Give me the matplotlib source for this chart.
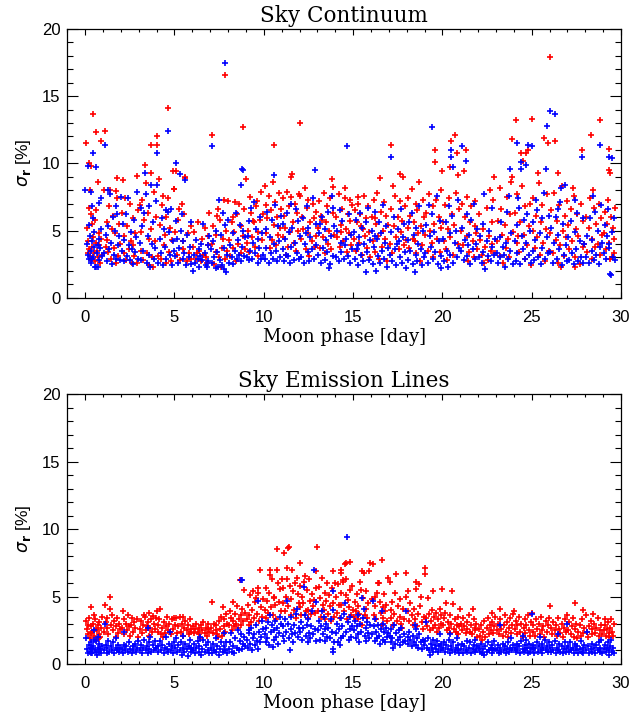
import numpy as np
import matplotlib
matplotlib.use("Agg")
import matplotlib.pyplot as plt
from matplotlib.ticker import MultipleLocator

# sigma_r [%] versus moon phase [day], red and blue samples
cont_red = np.array([
    (0.05, 11.5), (0.45, 13.7), (0.58, 12.3), (0.9, 11.7), (0.2, 10.0), (0.35, 9.8), (0.73, 8.6), (0.26, 8.0),
    (0.22, 6.7), (0.3, 6.2), (0.4, 5.5), (0.15, 4.2), (0.2, 3.6), (0.25, 3.1), (0.3, 2.9), (0.4, 3.8), (0.45, 4.5),
    (0.5, 3.3), (0.55, 2.7), (0.6, 4.1), (0.65, 3.5), (0.7, 3.0), (0.75, 4.8), (0.8, 3.9), (0.85, 2.6), (0.9, 4.4),
    (0.95, 3.2), (0.1, 5.2), (0.55, 5.8), (0.35, 2.8), (0.62, 6.5), (0.15, 3.3),
    (1.1, 12.4), (1.06, 8.0), (1.38, 8.0), (1.7, 7.95), (1.8, 8.9), (1.35, 6.8), (1.8, 7.4), (1.2, 5.6), (1.25, 4.3),
    (1.3, 3.4), (1.45, 2.9), (1.5, 5.1), (1.6, 3.7), (1.65, 4.8), (1.75, 2.6), (1.85, 3.1), (1.9, 5.5), (1.95, 4.0),
    (1.15, 3.8), (1.55, 6.1),
    (2.1, 8.75), (2.05, 6.3), (2.15, 3.3), (2.2, 4.6), (2.3, 2.8), (2.35, 5.3), (2.45, 3.6), (2.5, 7.0), (2.55, 4.2),
    (2.6, 2.6), (2.7, 5.9), (2.75, 3.1), (2.8, 4.8), (2.9, 2.6), (2.9, 9.05), (2.95, 6.5), (2.25, 7.4), (2.65, 3.9),
    (3.35, 9.9), (3.66, 11.4), (3.7, 9.25), (3.4, 8.5), (3.85, 7.9), (3.05, 6.9), (3.1, 3.5), (3.15, 4.9), (3.25, 2.8),
    (3.3, 5.8), (3.45, 3.3), (3.5, 6.3), (3.55, 4.4), (3.6, 2.4), (3.7, 5.1), (3.75, 3.0), (3.8, 2.25), (3.9, 4.2),
    (3.95, 6.0), (3.2, 7.3),
    (4.03, 12.0), (4.0, 11.4), (4.63, 14.1), (4.15, 8.8), (4.65, 7.45), (4.9, 9.4), (4.1, 3.1), (4.2, 5.4), (4.25, 2.9),
    (4.3, 6.9), (4.4, 3.9), (4.45, 4.7), (4.5, 2.6), (4.55, 6.0), (4.7, 3.4), (4.75, 5.2), (4.8, 2.7), (4.85, 4.3),
    (4.95, 8.1), (4.35, 7.6),
    (5.0, 8.1), (5.1, 9.4), (5.4, 7.0), (5.6, 8.9), (5.6, 9.0), (5.05, 4.9), (5.15, 3.2), (5.2, 5.8), (5.3, 2.8),
    (5.45, 4.2), (5.5, 3.6), (5.55, 6.2), (5.7, 2.75), (5.75, 4.8), (5.8, 3.3), (5.9, 5.3), (5.95, 2.9), (5.25, 6.6),
    (6.05, 3.8), (6.1, 4.9), (6.2, 2.9), (6.3, 5.6), (6.4, 3.5), (6.5, 2.75), (6.55, 4.4), (6.6, 3.2), (6.7, 5.2),
    (6.8, 2.6), (6.85, 3.9), (6.95, 6.3), (6.9, 4.6), (6.25, 3.3), (6.75, 3.0),
    (7.09, 12.1), (7.45, 6.6), (7.75, 7.3), (7.2, 2.5), (7.6, 2.25), (7.1, 4.0), (7.15, 5.3), (7.3, 3.4), (7.35, 4.7),
    (7.5, 3.0), (7.55, 5.8), (7.65, 3.7), (7.7, 4.4), (7.85, 2.9), (7.9, 5.0), (7.95, 3.5), (7.82, 16.6), (7.4, 6.1),
    (8.0, 7.2), (8.4, 7.1), (8.6, 7.0), (8.81, 12.7), (8.05, 4.3), (8.1, 3.1), (8.2, 5.6), (8.3, 3.7), (8.35, 4.9),
    (8.45, 2.7), (8.5, 6.2), (8.55, 4.0), (8.7, 3.3), (8.75, 5.3), (8.85, 4.6), (8.9, 6.6), (8.95, 3.6), (8.25, 6.0),
    (9.0, 8.8), (9.25, 7.5), (9.6, 7.2), (9.4, 5.7), (9.45, 5.6), (9.05, 4.1), (9.1, 5.0), (9.2, 3.4), (9.3, 6.3),
    (9.35, 4.5), (9.5, 3.8), (9.55, 6.8), (9.65, 4.9), (9.7, 3.1), (9.8, 5.8), (9.85, 7.9), (9.9, 4.3), (9.95, 6.2),
    (10.6, 11.4), (10.05, 8.3), (10.1, 6.9), (10.15, 4.8), (10.2, 5.9), (10.3, 7.6), (10.35, 3.7), (10.4, 6.5),
    (10.45, 4.3), (10.5, 8.6), (10.55, 5.4), (10.65, 7.1), (10.7, 3.9), (10.75, 6.0), (10.8, 4.7), (10.85, 7.8),
    (10.9, 5.2), (10.95, 6.6),
    (11.5, 9.0), (11.6, 9.2), (11.05, 7.4), (11.1, 4.5), (11.15, 6.1), (11.2, 5.2), (11.3, 7.9), (11.35, 3.8),
    (11.4, 6.8), (11.45, 4.9), (11.55, 7.5), (11.65, 5.6), (11.7, 4.1), (11.75, 7.0), (11.8, 3.5), (11.85, 6.3),
    (11.9, 5.0), (11.95, 7.7), (11.25, 3.2),
    (12.0, 13.0), (12.05, 7.6), (12.1, 4.4), (12.15, 6.0), (12.2, 5.1), (12.3, 8.2), (12.35, 3.6), (12.4, 6.7),
    (12.45, 4.8), (12.5, 7.3), (12.55, 3.1), (12.6, 5.6), (12.7, 4.2), (12.75, 7.0), (12.8, 5.9), (12.85, 3.8),
    (12.9, 6.4), (12.95, 4.6),
    (13.8, 8.8), (13.9, 8.25), (13.05, 5.2), (13.1, 7.2), (13.15, 3.7), (13.2, 6.1), (13.3, 4.5), (13.35, 7.8),
    (13.4, 3.3), (13.5, 5.6), (13.55, 6.8), (13.6, 4.0), (13.65, 5.0), (13.7, 7.4), (13.75, 3.6), (13.85, 6.3),
    (13.95, 4.7), (13.25, 5.8),
    (14.55, 8.2), (14.55, 7.4), (14.8, 7.3), (14.05, 6.0), (14.1, 4.5), (14.2, 7.7), (14.25, 3.8), (14.3, 5.4),
    (14.4, 6.6), (14.45, 4.2), (14.6, 5.1), (14.65, 3.4), (14.7, 6.2), (14.75, 4.8), (14.85, 5.7), (14.9, 3.9),
    (14.95, 6.9), (14.35, 4.9),
    (15.3, 7.5), (15.05, 4.4), (15.1, 6.5), (15.15, 3.5), (15.2, 5.6), (15.25, 7.0), (15.35, 4.1), (15.4, 6.2),
    (15.5, 3.2), (15.55, 5.1), (15.6, 7.6), (15.65, 4.6), (15.7, 5.9), (15.8, 3.7), (15.85, 6.8), (15.9, 4.9),
    (15.95, 3.0), (15.45, 5.3),
    (16.5, 8.9), (16.05, 6.0), (16.1, 4.2), (16.15, 7.3), (16.2, 3.4), (16.3, 5.5), (16.35, 7.8), (16.4, 4.6),
    (16.45, 2.9), (16.55, 6.4), (16.6, 3.8), (16.7, 5.0), (16.75, 7.1), (16.8, 4.4), (16.85, 6.1), (16.9, 2.7),
    (16.95, 5.4), (16.25, 5.9),
    (17.14, 11.4), (17.6, 9.2), (17.8, 9.0), (17.05, 4.0), (17.1, 6.6), (17.2, 3.3), (17.3, 5.3), (17.35, 7.6),
    (17.4, 4.5), (17.5, 6.0), (17.55, 3.6), (17.65, 7.2), (17.7, 4.9), (17.75, 5.7), (17.85, 3.9), (17.9, 6.8),
    (17.95, 4.3), (17.25, 8.3),
    (18.05, 5.2), (18.1, 7.4), (18.15, 3.7), (18.2, 6.1), (18.3, 8.1), (18.35, 4.4), (18.4, 5.6), (18.5, 7.0),
    (18.55, 3.3), (18.6, 6.5), (18.65, 4.8), (18.7, 8.6), (18.8, 5.3), (18.85, 3.9), (18.9, 7.3), (18.95, 6.0),
    (18.45, 4.2), (18.75, 2.7),
    (19.6, 11.0), (19.6, 10.1), (19.98, 9.4), (19.05, 4.7), (19.1, 6.3), (19.2, 3.5), (19.25, 7.7), (19.3, 5.0),
    (19.4, 4.1), (19.45, 6.8), (19.5, 3.0), (19.55, 5.5), (19.65, 7.3), (19.7, 4.4), (19.8, 6.0), (19.85, 3.4),
    (19.9, 5.2), (19.95, 8.0),
    (20.7, 12.1), (20.5, 11.7), (20.8, 10.8), (20.4, 9.7), (20.9, 9.1), (20.05, 5.6), (20.1, 4.2), (20.15, 6.9),
    (20.2, 3.6), (20.3, 5.1), (20.35, 7.4), (20.45, 4.5), (20.55, 6.2), (20.6, 3.2), (20.65, 5.4), (20.75, 7.8),
    (20.85, 4.0), (20.95, 6.6), (20.25, 2.8),
    (21.2, 9.4), (21.3, 11.0), (21.05, 5.0), (21.1, 7.0), (21.15, 3.9), (21.25, 6.0), (21.35, 4.6), (21.4, 7.5),
    (21.5, 3.4), (21.55, 5.6), (21.6, 6.8), (21.7, 4.2), (21.75, 3.0), (21.8, 5.3), (21.85, 7.2), (21.9, 4.8),
    (21.95, 3.6), (21.45, 2.7),
    (22.9, 9.0), (22.05, 6.2), (22.1, 4.3), (22.2, 3.2), (22.3, 5.1), (22.4, 3.8), (22.5, 6.7), (22.55, 2.8),
    (22.6, 4.6), (22.7, 3.5), (22.75, 5.6), (22.8, 4.0), (22.85, 7.3), (22.95, 3.3), (22.35, 2.6), (22.65, 8.0),
    (23.9, 11.8), (23.9, 9.0), (23.05, 4.2), (23.1, 5.7), (23.2, 3.1), (23.3, 6.6), (23.35, 4.7), (23.4, 2.6),
    (23.5, 5.4), (23.55, 3.7), (23.6, 7.5), (23.7, 4.4), (23.75, 3.0), (23.8, 6.2), (23.85, 8.6), (23.95, 4.9),
    (23.25, 8.2),
    (24.1, 13.2), (24.4, 10.8), (24.7, 10.8), (24.8, 11.0), (24.5, 10.2), (24.05, 6.3), (24.15, 4.1), (24.2, 7.7),
    (24.3, 3.4), (24.35, 5.6), (24.45, 8.3), (24.55, 4.7), (24.6, 2.9), (24.65, 6.8), (24.75, 3.9), (24.85, 5.3),
    (24.9, 7.0), (24.95, 2.4), (24.25, 4.6),
    (25.0, 13.3), (25.7, 11.9), (25.9, 11.5), (26.03, 17.9), (25.05, 5.0), (25.1, 7.4), (25.2, 3.7), (25.25, 6.1),
    (25.3, 4.5), (25.4, 8.5), (25.45, 3.2), (25.5, 5.6), (25.6, 6.9), (25.65, 4.1), (25.75, 2.7), (25.8, 5.1),
    (25.85, 7.7), (25.95, 3.5), (25.35, 9.3),
    (26.3, 11.7), (26.05, 4.8), (26.1, 6.5), (26.2, 3.3), (26.25, 7.8), (26.35, 4.3), (26.4, 5.7), (26.5, 2.6),
    (26.55, 6.9), (26.6, 3.9), (26.7, 8.3), (26.75, 5.0), (26.8, 3.1), (26.85, 6.1), (26.9, 4.5), (26.95, 7.2),
    (26.45, 9.3), (26.65, 2.3),
    (27.8, 11.0), (27.05, 5.4), (27.1, 3.6), (27.2, 6.6), (27.25, 4.2), (27.35, 7.6), (27.4, 3.0), (27.5, 5.1),
    (27.55, 6.2), (27.6, 4.6), (27.7, 2.5), (27.75, 7.0), (27.85, 3.8), (27.9, 5.7), (27.95, 4.0), (27.3, 8.2),
    (27.45, 2.3),
    (28.3, 12.1), (28.8, 13.2), (28.05, 6.0), (28.1, 3.4), (28.2, 5.2), (28.25, 7.4), (28.35, 4.4), (28.4, 2.9),
    (28.5, 6.7), (28.55, 3.8), (28.6, 5.5), (28.7, 4.0), (28.75, 7.0), (28.85, 3.2), (28.9, 5.9), (28.95, 4.7),
    (28.45, 8.0),
    (29.3, 11.1), (29.3, 9.5), (29.4, 9.3), (29.05, 4.8), (29.1, 6.4), (29.15, 3.6), (29.2, 5.5), (29.25, 7.3),
    (29.35, 4.1), (29.45, 6.0), (29.5, 3.0), (29.55, 5.2), (29.6, 4.4), (29.65, 6.7), (29.4, 2.9), (29.6, 3.3),
])

cont_blue = np.array([
    (0.45, 10.8), (0.17, 9.8), (0.6, 9.7), (0.0, 8.0), (0.3, 7.85), (0.36, 6.8), (0.45, 5.9), (0.75, 7.05),
    (0.1, 4.0), (0.15, 3.2), (0.2, 2.9), (0.25, 4.6), (0.3, 3.5), (0.35, 2.6), (0.4, 4.2), (0.45, 3.0), (0.5, 3.8),
    (0.55, 2.3), (0.6, 2.25), (0.65, 3.3), (0.7, 2.25), (0.75, 4.4), (0.8, 2.8), (0.85, 3.7), (0.9, 5.1),
    (0.95, 3.1), (0.2, 5.4), (0.5, 4.9), (0.7, 3.9), (0.4, 2.9),
    (1.1, 11.4), (0.9, 7.4), (1.3, 8.05), (1.4, 7.75), (1.7, 6.8), (1.8, 6.25), (2.0, 7.5), (1.05, 3.3), (1.15, 4.7),
    (1.2, 2.7), (1.3, 5.3), (1.35, 3.6), (1.45, 4.1), (1.5, 2.5), (1.55, 6.0), (1.6, 3.2), (1.65, 5.0), (1.75, 2.9),
    (1.85, 3.9), (1.9, 4.6), (1.95, 2.8),
    (2.05, 3.5), (2.1, 5.5), (2.15, 2.7), (2.2, 4.3), (2.3, 6.2), (2.35, 3.1), (2.4, 7.4), (2.5, 2.8), (2.55, 4.9),
    (2.6, 3.6), (2.7, 2.5), (2.75, 5.8), (2.8, 3.4), (2.85, 4.5), (2.9, 7.9), (2.95, 2.9), (2.45, 3.9),
    (3.36, 9.25), (3.4, 7.7), (3.7, 8.4), (3.05, 4.1), (3.1, 2.8), (3.2, 5.3), (3.25, 3.5), (3.3, 6.3), (3.45, 2.6),
    (3.5, 4.6), (3.55, 3.2), (3.6, 6.8), (3.65, 2.3), (3.75, 4.0), (3.8, 5.6), (3.85, 2.9), (3.9, 3.7), (3.95, 7.2),
    (3.15, 6.7),
    (4.03, 10.8), (4.0, 8.4), (4.63, 12.4), (4.65, 6.4), (4.1, 2.6), (4.2, 4.4), (4.25, 3.3), (4.3, 5.9), (4.35, 2.4),
    (4.45, 3.8), (4.5, 6.5), (4.55, 2.9), (4.7, 4.9), (4.75, 3.2), (4.8, 6.6), (4.85, 2.4), (4.9, 4.2), (4.95, 3.5),
    (4.4, 5.1),
    (5.1, 10.05), (5.3, 9.2), (5.6, 8.75), (5.4, 6.2), (5.1, 5.7), (5.05, 3.1), (5.15, 4.4), (5.2, 2.6),
    (5.25, 3.7), (5.35, 5.0), (5.45, 2.9), (5.5, 4.2), (5.55, 3.3), (5.65, 2.4), (5.7, 4.7), (5.8, 3.0), (5.85, 3.8),
    (5.9, 2.5), (5.95, 5.6),
    (6.05, 1.97), (6.1, 3.2), (6.15, 2.6), (6.2, 4.3), (6.3, 2.9), (6.35, 3.6), (6.4, 2.3), (6.5, 4.0), (6.55, 2.8),
    (6.6, 5.5), (6.7, 3.3), (6.75, 2.4), (6.8, 2.25), (6.85, 3.9), (6.9, 2.7), (6.95, 4.6), (6.45, 3.1),
    (7.09, 11.3), (7.82, 17.5), (7.5, 7.3), (7.7, 6.3), (7.45, 2.25), (7.9, 1.95), (7.05, 3.6), (7.1, 2.6),
    (7.15, 4.2), (7.2, 3.0), (7.3, 2.2), (7.35, 5.0), (7.4, 3.4), (7.55, 2.8), (7.6, 4.7), (7.65, 2.4), (7.75, 3.7),
    (7.8, 2.1), (7.85, 5.4), (7.95, 3.2),
    (8.0, 5.8), (8.8, 9.6), (8.7, 8.4), (8.05, 2.6), (8.1, 3.9), (8.2, 3.0), (8.25, 4.8), (8.3, 2.5), (8.4, 3.5),
    (8.45, 6.3), (8.5, 2.9), (8.55, 4.3), (8.6, 3.2), (8.65, 5.4), (8.75, 2.7), (8.8, 3.8), (8.85, 5.0), (8.9, 3.1),
    (8.95, 4.5), (8.81, 9.5),
    (9.3, 6.7), (9.05, 3.0), (9.1, 4.6), (9.15, 2.8), (9.2, 5.7), (9.25, 3.5), (9.35, 2.9), (9.4, 4.1), (9.45, 7.1),
    (9.5, 3.3), (9.55, 5.1), (9.65, 2.6), (9.7, 4.4), (9.75, 3.7), (9.8, 6.0), (9.85, 2.9), (9.9, 4.8), (9.95, 3.2),
    (10.6, 9.1), (10.05, 2.9), (10.1, 5.1), (10.15, 3.7), (10.2, 6.4), (10.3, 2.6), (10.35, 4.5), (10.4, 3.3),
    (10.45, 5.8), (10.5, 2.9), (10.55, 4.0), (10.65, 6.9), (10.7, 3.5), (10.75, 2.7), (10.8, 5.3), (10.85, 4.2),
    (10.9, 3.0), (10.95, 6.1),
    (11.05, 3.6), (11.1, 5.5), (11.15, 2.7), (11.2, 4.4), (11.3, 6.3), (11.35, 3.1), (11.4, 4.9), (11.45, 2.6),
    (11.5, 7.0), (11.55, 3.8), (11.6, 5.2), (11.7, 2.8), (11.75, 4.1), (11.8, 6.6), (11.85, 3.3), (11.9, 5.7),
    (11.95, 2.9), (11.25, 3.2),
    (12.85, 9.5), (12.05, 4.6), (12.1, 3.0), (12.2, 5.9), (12.25, 2.6), (12.3, 4.0), (12.4, 6.8), (12.45, 3.4),
    (12.5, 5.2), (12.55, 2.7), (12.6, 4.5), (12.7, 3.6), (12.75, 7.4), (12.8, 2.9), (12.9, 5.5), (12.95, 3.9),
    (12.35, 4.8),
    (13.8, 7.6), (13.9, 6.7), (13.05, 3.2), (13.1, 4.8), (13.2, 2.6), (13.25, 6.0), (13.3, 3.7), (13.4, 5.1),
    (13.45, 2.8), (13.5, 4.3), (13.55, 3.4), (13.6, 6.4), (13.7, 2.5), (13.75, 4.6), (13.85, 3.1), (13.95, 5.3),
    (13.65, 2.2), (13.15, 5.5),
    (14.68, 11.3), (14.05, 3.0), (14.1, 5.0), (14.2, 2.7), (14.3, 4.1), (14.35, 3.4), (14.4, 5.7), (14.5, 2.9),
    (14.6, 4.4), (14.7, 3.1), (14.75, 6.2), (14.8, 2.6), (14.9, 4.7), (14.95, 3.6), (14.25, 6.5), (14.55, 3.9),
    (15.05, 4.9), (15.1, 2.9), (15.15, 5.8), (15.2, 3.6), (15.3, 2.4), (15.35, 4.5), (15.4, 6.3), (15.45, 3.2),
    (15.5, 5.2), (15.55, 2.7), (15.6, 4.0), (15.7, 1.9), (15.75, 5.6), (15.8, 3.4), (15.85, 6.7), (15.9, 2.8),
    (15.95, 4.3), (15.25, 3.9),
    (16.05, 5.0), (16.1, 2.5), (16.15, 3.8), (16.2, 6.4), (16.3, 2.0), (16.35, 4.4), (16.4, 3.1), (16.45, 5.6),
    (16.5, 2.6), (16.55, 4.8), (16.6, 3.5), (16.7, 6.9), (16.75, 2.9), (16.8, 4.1), (16.85, 5.3), (16.9, 2.3),
    (16.95, 3.7), (16.25, 4.6),
    (17.14, 10.5), (17.05, 3.2), (17.1, 4.9), (17.2, 2.7), (17.3, 6.0), (17.35, 3.6), (17.4, 2.4), (17.5, 5.1),
    (17.55, 4.2), (17.6, 3.0), (17.7, 6.6), (17.75, 2.6), (17.8, 4.5), (17.85, 5.5), (17.9, 3.4), (17.95, 2.2),
    (17.45, 4.0),
    (18.05, 4.3), (18.1, 2.8), (18.15, 5.6), (18.2, 3.5), (18.3, 6.3), (18.35, 2.5), (18.4, 4.7), (18.5, 3.2),
    (18.55, 5.2), (18.6, 2.7), (18.65, 4.0), (18.7, 6.8), (18.8, 3.6), (18.85, 2.4), (18.9, 5.0), (18.95, 3.0),
    (18.45, 1.9),
    (19.44, 12.7), (19.05, 3.3), (19.1, 5.4), (19.2, 2.6), (19.3, 4.6), (19.35, 3.8), (19.4, 6.2), (19.5, 2.9),
    (19.55, 4.9), (19.6, 3.4), (19.7, 7.6), (19.75, 2.5), (19.8, 4.2), (19.85, 5.7), (19.9, 3.1), (19.95, 2.2),
    (19.25, 6.9),
    (20.5, 11.0), (20.5, 10.5), (20.6, 9.7), (20.05, 4.4), (20.1, 2.7), (20.2, 5.6), (20.25, 3.5), (20.3, 2.3),
    (20.4, 4.8), (20.45, 3.2), (20.55, 6.1), (20.6, 2.6), (20.7, 4.1), (20.75, 5.0), (20.8, 3.0), (20.9, 7.3),
    (20.95, 3.7), (20.35, 6.8),
    (21.1, 11.3), (21.3, 10.2), (21.05, 3.5), (21.1, 5.2), (21.2, 2.8), (21.25, 4.3), (21.35, 6.2), (21.4, 3.1),
    (21.5, 4.7), (21.55, 2.5), (21.6, 5.8), (21.7, 3.6), (21.75, 7.0), (21.8, 2.9), (21.9, 4.0), (21.95, 5.1),
    (21.45, 3.9),
    (22.05, 3.0), (22.1, 4.6), (22.2, 2.6), (22.25, 5.5), (22.3, 3.4), (22.4, 2.1), (22.5, 4.2), (22.55, 3.1),
    (22.6, 5.0), (22.7, 2.7), (22.75, 3.8), (22.8, 6.7), (22.9, 3.2), (22.95, 4.4), (22.35, 7.7),
    (23.79, 9.6), (24.2, 11.5), (23.05, 3.3), (23.1, 2.6), (23.2, 4.5), (23.25, 3.0), (23.3, 5.6), (23.4, 3.8),
    (23.5, 2.3), (23.55, 4.1), (23.6, 6.4), (23.7, 2.9), (23.75, 7.6), (23.8, 3.5), (23.85, 4.8), (23.95, 2.5),
    (23.45, 3.2),
    (24.8, 11.4), (25.0, 11.3), (24.4, 10.1), (24.4, 9.6), (24.7, 9.9), (24.05, 4.2), (24.1, 2.7), (24.15, 5.4),
    (24.2, 3.3), (24.3, 6.7), (24.35, 2.5), (24.45, 4.6), (24.5, 3.6), (24.55, 5.8), (24.6, 2.9), (24.7, 4.1),
    (24.75, 6.2), (24.85, 3.2), (24.9, 5.0), (24.95, 2.6), (24.25, 7.4),
    (26.03, 13.9), (26.3, 13.7), (25.84, 12.8), (25.8, 9.6), (25.05, 3.5), (25.1, 5.6), (25.15, 2.8), (25.2, 4.3),
    (25.3, 6.5), (25.35, 3.0), (25.45, 4.8), (25.5, 2.5), (25.55, 5.9), (25.6, 3.7), (25.7, 7.8), (25.75, 2.9),
    (25.85, 4.5), (25.9, 3.3), (25.95, 6.1), (25.25, 7.3),
    (26.05, 3.4), (26.1, 5.2), (26.2, 2.6), (26.25, 4.1), (26.35, 6.0), (26.4, 2.9), (26.5, 4.7), (26.55, 3.6),
    (26.6, 7.1), (26.7, 2.4), (26.75, 5.5), (26.8, 3.2), (26.85, 8.4), (26.9, 3.9), (26.95, 2.7), (26.45, 6.6),
    (26.65, 8.2),
    (27.8, 10.5), (27.05, 4.5), (27.1, 2.8), (27.2, 5.7), (27.25, 3.3), (27.35, 2.5), (27.4, 4.9), (27.5, 3.6),
    (27.55, 6.3), (27.6, 2.7), (27.7, 4.2), (27.75, 3.0), (27.85, 5.9), (27.9, 2.6), (27.95, 4.0), (27.45, 7.3),
    (28.8, 11.4), (28.05, 3.0), (28.1, 4.6), (28.2, 2.6), (28.25, 5.9), (28.35, 3.5), (28.4, 4.3), (28.5, 2.8),
    (28.55, 6.4), (28.6, 3.2), (28.7, 5.0), (28.75, 2.5), (28.85, 3.8), (28.9, 6.9), (28.95, 4.1), (28.45, 7.6),
    (29.3, 10.5), (29.5, 10.4), (29.05, 3.3), (29.1, 5.4), (29.15, 2.9), (29.2, 4.6), (29.25, 6.6), (29.35, 3.7),
    (29.4, 1.8), (29.45, 1.7), (29.5, 4.9), (29.55, 3.0), (29.6, 5.9), (29.65, 2.8), (29.3, 4.0),
])

lines_red = np.array([
    (0.05, 3.2), (0.1, 2.6), (0.15, 2.2), (0.2, 3.4), (0.25, 1.9), (0.3, 2.8), (0.35, 4.25), (0.4, 2.4), (0.45, 3.0),
    (0.5, 2.1), (0.55, 3.3), (0.6, 1.8), (0.65, 2.5), (0.7, 2.9), (0.75, 2.2), (0.8, 3.1), (0.85, 2.0), (0.9, 2.7),
    (0.95, 3.5), (0.3, 2.3), (0.6, 2.6), (0.5, 3.6), (0.75, 1.9), (0.15, 2.9),
    (1.38, 5.0), (1.1, 4.4), (1.38, 4.05), (1.05, 2.4), (1.15, 3.1), (1.2, 2.7), (1.25, 3.4), (1.3, 2.2), (1.45, 2.9),
    (1.5, 3.6), (1.55, 2.5), (1.6, 3.2), (1.7, 2.0), (1.75, 2.8), (1.8, 3.4), (1.85, 2.3), (1.9, 3.0), (1.95, 2.6),
    (2.1, 3.9), (2.05, 2.7), (2.15, 3.3), (2.2, 2.2), (2.3, 3.0), (2.35, 2.5), (2.4, 3.6), (2.5, 2.1), (2.55, 2.9),
    (2.6, 3.4), (2.7, 2.4), (2.75, 3.1), (2.8, 2.7), (2.9, 3.3), (2.95, 2.0), (2.45, 2.8),
    (3.35, 3.45), (3.8, 3.55), (3.05, 2.6), (3.1, 3.2), (3.2, 2.3), (3.25, 2.9), (3.3, 3.6), (3.4, 2.5), (3.5, 3.1),
    (3.55, 2.1), (3.6, 3.8), (3.65, 2.7), (3.7, 3.3), (3.75, 2.4), (3.85, 3.0), (3.9, 2.6), (3.95, 3.4), (3.45, 2.8),
    (4.2, 4.05), (4.0, 3.9), (4.05, 2.9), (4.1, 2.4), (4.15, 3.3), (4.25, 2.2), (4.3, 2.7), (4.4, 3.1), (4.45, 2.3),
    (4.5, 2.8), (4.6, 3.5), (4.65, 2.5), (4.7, 3.0), (4.8, 2.2), (4.85, 3.3), (4.9, 2.6), (4.95, 3.4), (4.35, 2.0),
    (5.05, 2.9), (5.1, 3.4), (5.15, 2.3), (5.2, 2.8), (5.3, 3.5), (5.35, 2.4), (5.4, 3.0), (5.5, 2.1), (5.55, 2.7),
    (5.6, 3.2), (5.7, 2.5), (5.75, 2.9), (5.8, 2.2), (5.85, 3.3), (5.9, 2.6), (5.95, 2.4), (5.45, 3.5),
    (6.05, 2.8), (6.1, 2.3), (6.15, 2.6), (6.2, 3.0), (6.3, 2.4), (6.35, 2.7), (6.4, 2.2), (6.5, 2.9), (6.55, 2.5),
    (6.6, 3.1), (6.7, 2.3), (6.75, 2.7), (6.8, 2.1), (6.85, 2.6), (6.9, 3.0), (6.95, 2.4), (6.45, 1.9),
    (7.1, 4.6), (7.7, 4.25), (7.05, 2.7), (7.15, 2.3), (7.2, 3.0), (7.3, 2.5), (7.35, 2.9), (7.4, 2.2), (7.5, 3.2),
    (7.55, 2.6), (7.6, 3.5), (7.65, 2.1), (7.75, 2.8), (7.8, 3.3), (7.85, 2.4), (7.9, 3.7), (7.95, 3.0), (7.45, 2.0),
    (8.3, 4.6), (8.1, 3.9), (8.65, 6.2), (8.9, 5.5), (8.05, 2.9), (8.15, 3.4), (8.2, 2.5), (8.25, 3.2), (8.35, 2.8),
    (8.4, 3.7), (8.45, 3.0), (8.5, 4.3), (8.55, 2.7), (8.6, 3.3), (8.7, 3.6), (8.75, 2.9), (8.8, 4.1), (8.85, 3.2),
    (8.95, 3.8),
    (9.4, 5.4), (9.8, 7.0), (9.7, 5.25), (9.55, 4.9), (9.05, 3.3), (9.1, 4.4), (9.15, 2.9), (9.2, 3.6), (9.25, 5.1),
    (9.3, 3.1), (9.35, 4.0), (9.45, 3.4), (9.5, 4.6), (9.6, 3.7), (9.65, 5.6), (9.75, 3.2), (9.85, 4.2), (9.9, 3.5),
    (9.95, 4.8),
    (10.1, 5.6), (10.35, 6.6), (10.75, 8.5), (10.75, 7.0), (10.45, 6.3), (10.9, 5.55), (10.6, 5.0), (10.05, 4.0),
    (10.15, 3.4), (10.2, 4.7), (10.25, 3.8), (10.3, 5.3), (10.4, 4.2), (10.5, 3.6), (10.55, 4.9), (10.65, 4.4),
    (10.7, 3.3), (10.8, 6.0), (10.85, 4.6), (10.95, 3.9), (10.37, 7.0),
    (11.15, 8.25), (11.4, 8.7), (11.3, 7.1), (11.0, 6.3), (11.3, 6.3), (11.6, 7.0), (11.85, 6.4), (11.05, 4.5),
    (11.1, 5.6), (11.2, 3.9), (11.25, 5.0), (11.35, 4.3), (11.45, 5.8), (11.5, 3.6), (11.55, 4.8), (11.65, 5.4),
    (11.7, 4.0), (11.75, 6.0), (11.8, 3.4), (11.9, 5.2), (11.95, 4.5), (11.35, 8.6),
    (12.0, 7.5), (12.0, 5.8), (12.25, 6.1), (12.3, 6.5), (12.9, 6.9), (12.8, 4.75), (12.05, 4.2), (12.1, 3.6),
    (12.15, 5.0), (12.2, 4.5), (12.35, 3.9), (12.4, 5.5), (12.45, 4.0), (12.5, 3.4), (12.55, 6.3), (12.6, 4.7),
    (12.65, 3.7), (12.7, 5.2), (12.75, 4.3), (12.85, 3.8), (12.95, 5.6),
    (13.0, 8.7), (13.15, 4.9), (13.3, 4.4), (13.85, 6.9), (14.0, 6.0), (13.05, 3.9), (13.1, 5.7), (13.2, 3.5),
    (13.25, 6.4), (13.35, 4.0), (13.4, 5.3), (13.45, 3.3), (13.5, 4.7), (13.55, 6.0), (13.6, 3.7), (13.65, 5.1),
    (13.7, 4.3), (13.75, 3.2), (13.8, 5.6), (13.9, 4.5), (13.95, 3.5),
    (14.35, 6.75), (14.55, 7.45), (14.45, 6.25), (14.8, 7.6), (14.6, 7.5), (14.35, 7.0), (14.45, 6.1), (14.6, 6.3),
    (14.8, 5.5), (14.6, 5.1), (14.7, 4.75), (14.35, 4.4), (15.0, 4.0), (14.05, 5.0), (14.1, 3.8), (14.15, 5.9),
    (14.2, 4.4), (14.25, 3.4), (14.3, 5.3), (14.5, 3.9), (14.65, 3.3), (14.75, 4.2), (14.9, 3.6), (14.95, 5.8),
    (15.5, 6.9), (15.6, 6.75), (15.4, 6.05), (15.45, 5.5), (15.95, 7.5), (16.1, 7.4), (15.9, 6.9), (15.05, 3.5),
    (15.1, 4.6), (15.15, 3.9), (15.2, 5.2), (15.25, 3.3), (15.3, 4.3), (15.35, 3.7), (15.55, 4.9), (15.65, 3.6),
    (15.7, 4.1), (15.75, 5.4), (15.8, 3.4), (15.85, 4.5), (15.5, 2.9),
    (16.4, 6.0), (16.45, 6.0), (16.6, 7.7), (16.35, 5.3), (16.95, 6.4), (16.05, 4.8), (16.15, 3.6), (16.2, 4.3),
    (16.25, 5.0), (16.3, 3.3), (16.5, 4.6), (16.55, 3.8), (16.65, 4.2), (16.7, 3.4), (16.75, 5.2), (16.8, 3.9),
    (16.85, 4.4), (16.9, 3.2), (16.6, 2.9),
    (17.05, 6.05), (17.4, 6.7), (17.95, 6.75), (17.95, 5.0), (17.1, 4.0), (17.15, 3.4), (17.2, 4.6), (17.3, 3.7),
    (17.35, 5.3), (17.45, 3.2), (17.5, 4.3), (17.6, 3.5), (17.65, 4.8), (17.7, 3.0), (17.8, 4.1), (17.85, 3.3),
    (17.25, 2.9), (17.75, 2.7),
    (18.1, 5.4), (18.5, 6.1), (18.7, 5.95), (18.8, 5.0), (18.55, 5.55), (18.05, 3.9), (18.15, 3.2), (18.2, 4.5),
    (18.3, 3.6), (18.35, 2.9), (18.4, 4.1), (18.45, 3.3), (18.6, 2.8), (18.65, 3.7), (18.75, 4.3), (18.85, 3.1),
    (18.9, 2.6), (18.95, 3.5),
    (19.0, 7.1), (19.05, 6.7), (19.2, 4.9), (19.5, 5.4), (19.85, 4.1), (19.1, 3.4), (19.15, 2.8), (19.25, 3.7),
    (19.3, 2.5), (19.35, 3.2), (19.4, 4.0), (19.45, 2.7), (19.55, 3.5), (19.6, 2.9), (19.65, 3.8), (19.7, 2.4),
    (19.75, 3.3), (19.8, 2.7), (19.9, 3.6), (19.95, 3.0),
    (20.0, 5.55), (20.55, 5.4), (20.2, 4.5), (20.15, 3.8), (20.6, 4.45), (21.0, 4.1), (20.05, 2.9), (20.1, 3.4),
    (20.25, 2.5), (20.3, 3.1), (20.35, 2.7), (20.4, 3.6), (20.45, 2.3), (20.5, 3.0), (20.65, 2.6), (20.7, 3.3),
    (20.75, 2.4), (20.8, 2.9), (20.85, 3.5), (20.9, 2.2), (20.95, 2.8),
    (21.7, 4.05), (21.05, 3.0), (21.1, 2.5), (21.15, 3.4), (21.2, 2.8), (21.3, 2.3), (21.35, 3.1), (21.4, 2.6),
    (21.5, 3.6), (21.55, 2.4), (21.6, 2.9), (21.65, 2.2), (21.75, 3.3), (21.8, 2.7), (21.85, 2.5), (21.9, 3.0),
    (21.95, 2.0),
    (22.8, 3.8), (22.05, 2.6), (22.1, 2.1), (22.15, 2.9), (22.2, 1.8), (22.3, 2.4), (22.35, 3.2), (22.4, 2.0),
    (22.5, 2.7), (22.55, 3.4), (22.6, 2.2), (22.65, 2.9), (22.7, 2.5), (22.75, 3.1), (22.85, 2.3), (22.9, 2.8),
    (22.95, 3.5),
    (23.2, 4.1), (23.05, 2.5), (23.1, 3.0), (23.15, 2.2), (23.25, 3.3), (23.3, 2.6), (23.4, 2.1), (23.45, 2.9),
    (23.5, 3.6), (23.55, 2.4), (23.6, 3.1), (23.7, 2.0), (23.75, 2.7), (23.8, 3.4), (23.85, 2.3), (23.9, 2.9),
    (23.95, 3.7),
    (24.0, 3.9), (24.05, 2.6), (24.1, 3.2), (24.15, 2.2), (24.2, 2.9), (24.3, 3.5), (24.35, 2.4), (24.4, 3.0),
    (24.5, 2.0), (24.55, 2.7), (24.6, 3.3), (24.65, 2.3), (24.7, 2.9), (24.8, 3.6), (24.85, 2.5), (24.9, 2.1),
    (24.95, 3.1),
    (25.0, 3.75), (25.05, 2.4), (25.1, 2.9), (25.2, 2.1), (25.25, 3.3), (25.3, 2.6), (25.4, 3.0), (25.45, 2.2),
    (25.5, 3.5), (25.6, 2.5), (25.65, 2.8), (25.7, 2.0), (25.8, 3.2), (25.85, 2.4), (25.9, 2.9), (25.95, 3.4),
    (26.05, 4.3), (26.1, 2.7), (26.15, 2.2), (26.2, 3.1), (26.3, 2.5), (26.35, 2.9), (26.4, 2.1), (26.5, 3.4),
    (26.55, 2.6), (26.6, 2.3), (26.7, 3.0), (26.75, 2.0), (26.8, 2.7), (26.85, 3.3), (26.9, 2.4), (26.95, 3.6),
    (27.4, 4.55), (27.9, 4.0), (27.05, 2.5), (27.1, 3.1), (27.2, 2.2), (27.25, 2.8), (27.3, 3.4), (27.35, 2.0),
    (27.45, 2.6), (27.5, 3.0), (27.55, 1.9), (27.6, 2.4), (27.7, 2.9), (27.75, 2.1), (27.8, 3.3), (27.85, 2.3),
    (27.95, 2.7),
    (28.05, 3.6), (28.1, 2.4), (28.15, 2.0), (28.2, 2.8), (28.3, 3.2), (28.35, 2.2), (28.4, 2.6), (28.5, 3.0),
    (28.55, 2.3), (28.6, 2.7), (28.7, 3.4), (28.75, 2.1), (28.8, 2.5), (28.9, 2.9), (28.95, 2.2), (28.45, 3.7),
    (29.45, 3.35), (29.05, 2.5), (29.1, 2.9), (29.15, 2.1), (29.2, 2.6), (29.25, 3.1), (29.3, 2.3), (29.35, 2.0),
    (29.4, 2.7), (29.5, 2.4), (29.55, 2.1), (29.6, 3.0), (29.1, 3.3),
])

lines_blue = np.array([
    (0.05, 1.9), (0.1, 1.1), (0.15, 0.8), (0.2, 1.4), (0.25, 0.9), (0.3, 1.2), (0.35, 1.6), (0.4, 0.8), (0.45, 1.3),
    (0.5, 2.5), (0.55, 1.0), (0.6, 1.7), (0.65, 0.7), (0.7, 1.2), (0.75, 0.9), (0.8, 1.5), (0.85, 1.1), (0.9, 0.8),
    (0.95, 1.3), (0.5, 1.8), (0.4, 1.1), (0.7, 2.0), (0.6, 0.9), (0.3, 0.8),
    (1.1, 3.0), (1.05, 1.0), (1.15, 1.4), (1.2, 0.8), (1.25, 1.2), (1.3, 1.7), (1.35, 0.9), (1.45, 1.3), (1.5, 1.0),
    (1.55, 1.6), (1.6, 0.8), (1.7, 1.2), (1.75, 1.9), (1.8, 1.0), (1.85, 1.4), (1.9, 0.9), (1.95, 1.2),
    (2.2, 2.4), (2.05, 1.1), (2.1, 0.8), (2.15, 1.4), (2.25, 1.0), (2.3, 1.3), (2.4, 0.9), (2.45, 1.6), (2.5, 1.1),
    (2.6, 0.8), (2.65, 1.3), (2.7, 1.0), (2.8, 1.5), (2.85, 0.9), (2.9, 1.2), (2.95, 1.7),
    (3.05, 1.0), (3.1, 1.4), (3.2, 0.8), (3.25, 1.2), (3.3, 1.8), (3.4, 1.0), (3.45, 1.3), (3.5, 0.8), (3.55, 1.6),
    (3.6, 1.1), (3.65, 2.0), (3.7, 0.9), (3.8, 1.4), (3.85, 1.0), (3.9, 1.7), (3.95, 1.2), (3.5, 2.7),
    (4.05, 0.9), (4.1, 1.3), (4.2, 1.7), (4.25, 1.0), (4.3, 1.4), (4.4, 0.8), (4.45, 1.2), (4.5, 2.0), (4.6, 1.1),
    (4.65, 0.9), (4.7, 1.5), (4.75, 2.4), (4.8, 1.0), (4.85, 1.3), (4.9, 0.8), (4.95, 1.6),
    (5.05, 1.2), (5.1, 1.9), (5.15, 0.9), (5.2, 1.4), (5.3, 1.0), (5.35, 1.6), (5.4, 0.7), (5.5, 1.2), (5.55, 0.9),
    (5.6, 1.5), (5.7, 1.1), (5.75, 0.6), (5.8, 1.3), (5.85, 1.8), (5.9, 0.9), (5.95, 1.2), (5.45, 2.1),
    (6.05, 1.0), (6.1, 1.5), (6.15, 0.8), (6.2, 1.2), (6.3, 1.7), (6.35, 0.9), (6.4, 1.3), (6.5, 0.7), (6.55, 1.1),
    (6.6, 1.8), (6.7, 0.9), (6.75, 1.4), (6.85, 1.0), (6.9, 1.6), (6.95, 0.8), (6.45, 2.0),
    (7.05, 1.2), (7.1, 0.8), (7.15, 1.5), (7.2, 1.0), (7.3, 1.9), (7.35, 0.9), (7.4, 1.3), (7.5, 0.7), (7.55, 1.1),
    (7.6, 1.6), (7.7, 0.9), (7.75, 1.3), (7.8, 2.3), (7.85, 1.0), (7.95, 0.8), (7.9, 1.6),
    (8.75, 6.25), (8.8, 6.2), (8.05, 1.1), (8.1, 1.6), (8.15, 2.3), (8.2, 0.9), (8.3, 1.3), (8.35, 0.8), (8.4, 1.9),
    (8.5, 1.2), (8.55, 2.5), (8.6, 1.0), (8.65, 1.7), (8.7, 2.2), (8.8, 1.1), (8.85, 1.5), (8.9, 2.0), (8.95, 1.3),
    (9.7, 4.7), (9.2, 2.5), (9.9, 3.2), (9.05, 1.8), (9.1, 1.2), (9.15, 2.3), (9.25, 1.5), (9.3, 2.7), (9.35, 1.0),
    (9.4, 1.9), (9.45, 2.2), (9.5, 1.4), (9.55, 2.9), (9.6, 1.7), (9.65, 1.1), (9.75, 2.4), (9.8, 1.6), (9.85, 2.0),
    (9.95, 2.6),
    (10.35, 3.6), (10.9, 3.45), (10.5, 1.25), (10.05, 2.2), (10.1, 1.6), (10.15, 2.7), (10.2, 1.9), (10.25, 3.1),
    (10.3, 1.4), (10.4, 2.4), (10.45, 2.9), (10.55, 1.8), (10.6, 2.5), (10.65, 3.2), (10.7, 2.0), (10.75, 2.7),
    (10.8, 1.5), (10.85, 2.3), (10.95, 3.0),
    (11.3, 4.7), (11.85, 4.1), (11.45, 1.05), (11.05, 2.1), (11.1, 2.8), (11.15, 1.7), (11.2, 3.3), (11.25, 2.4),
    (11.35, 3.0), (11.4, 1.9), (11.5, 2.6), (11.55, 3.5), (11.6, 2.2), (11.65, 1.6), (11.7, 2.9), (11.75, 2.3),
    (11.8, 3.7), (11.9, 2.0), (11.95, 2.7),
    (12.8, 7.0), (12.25, 5.7), (12.9, 4.6), (12.05, 2.4), (12.1, 3.1), (12.15, 1.8), (12.2, 2.7), (12.3, 3.6),
    (12.35, 2.1), (12.4, 2.9), (12.45, 1.6), (12.5, 3.3), (12.55, 2.3), (12.6, 1.9), (12.65, 2.8), (12.7, 3.9),
    (12.75, 2.2), (12.85, 2.6), (12.95, 1.7),
    (13.25, 3.9), (13.85, 5.4), (13.9, 4.0), (13.9, 1.1), (13.05, 2.5), (13.1, 3.2), (13.15, 1.8), (13.2, 2.8),
    (13.3, 2.2), (13.35, 3.5), (13.4, 1.7), (13.45, 2.6), (13.5, 3.0), (13.55, 2.0), (13.6, 2.7), (13.7, 1.9),
    (13.75, 3.3), (13.8, 2.4), (13.95, 1.6), (13.85, 0.9),
    (14.55, 4.5), (14.65, 9.45), (14.05, 2.3), (14.1, 3.0), (14.15, 1.6), (14.2, 2.6), (14.3, 3.4), (14.35, 1.9),
    (14.4, 2.8), (14.45, 2.1), (14.5, 3.7), (14.6, 2.4), (14.7, 3.1), (14.75, 1.8), (14.8, 2.6), (14.85, 3.5),
    (14.9, 2.0), (14.95, 2.8), (14.25, 1.4),
    (15.5, 4.9), (15.6, 4.1), (15.05, 2.5), (15.1, 3.2), (15.15, 1.9), (15.2, 2.8), (15.25, 3.6), (15.3, 2.2),
    (15.35, 1.6), (15.4, 3.0), (15.45, 2.4), (15.55, 3.4), (15.65, 2.1), (15.7, 2.7), (15.75, 1.7), (15.8, 3.1),
    (15.85, 2.3), (15.9, 1.9), (15.95, 2.9),
    (16.1, 4.7), (16.6, 3.95), (16.05, 2.2), (16.15, 2.8), (16.2, 1.7), (16.25, 3.3), (16.3, 2.4), (16.35, 1.9),
    (16.4, 2.9), (16.45, 2.1), (16.5, 1.5), (16.55, 2.6), (16.65, 3.0), (16.7, 1.8), (16.75, 2.4), (16.8, 1.6),
    (16.85, 2.7), (16.9, 2.0), (16.95, 2.3),
    (17.95, 3.9), (17.05, 2.1), (17.1, 1.6), (17.15, 2.6), (17.2, 1.9), (17.3, 2.9), (17.35, 1.5), (17.4, 2.3),
    (17.5, 1.8), (17.55, 2.5), (17.6, 1.4), (17.65, 2.0), (17.7, 2.7), (17.8, 1.6), (17.85, 2.2), (17.9, 1.7),
    (17.25, 1.2),
    (18.05, 2.0), (18.1, 1.5), (18.15, 2.4), (18.2, 1.8), (18.3, 1.3), (18.35, 2.1), (18.4, 1.6), (18.5, 2.6),
    (18.55, 1.4), (18.6, 1.9), (18.65, 1.2), (18.7, 2.2), (18.8, 1.6), (18.85, 1.1), (18.9, 1.8), (18.95, 1.4),
    (18.45, 2.9),
    (19.1, 3.1), (19.3, 0.7), (19.05, 1.7), (19.15, 1.2), (19.2, 1.9), (19.25, 1.0), (19.35, 1.5), (19.4, 1.2),
    (19.45, 1.8), (19.5, 0.9), (19.6, 1.4), (19.65, 1.1), (19.7, 1.7), (19.75, 0.9), (19.8, 1.3), (19.85, 2.2),
    (19.9, 1.0), (19.95, 1.5),
    (20.05, 1.2), (20.1, 1.6), (20.15, 0.9), (20.2, 1.4), (20.3, 1.1), (20.35, 1.8), (20.4, 0.8), (20.5, 1.3),
    (20.55, 1.0), (20.6, 1.6), (20.7, 0.9), (20.75, 1.2), (20.8, 1.9), (20.85, 1.0), (20.9, 1.4), (20.95, 0.8),
    (20.45, 2.2),
    (21.05, 1.1), (21.1, 1.5), (21.15, 0.8), (21.2, 1.3), (21.3, 1.0), (21.35, 1.7), (21.4, 0.9), (21.5, 1.2),
    (21.55, 1.6), (21.6, 0.8), (21.7, 1.1), (21.75, 1.4), (21.8, 0.9), (21.85, 1.8), (21.9, 1.0), (21.95, 1.3),
    (22.2, 0.8), (22.05, 1.2), (22.1, 0.9), (22.15, 1.5), (22.3, 1.1), (22.35, 0.7), (22.4, 1.3), (22.5, 0.9),
    (22.55, 1.6), (22.6, 1.0), (22.7, 1.2), (22.75, 0.8), (22.8, 1.4), (22.85, 1.0), (22.9, 1.7), (22.95, 1.1),
    (23.2, 2.9), (23.05, 1.0), (23.1, 1.4), (23.15, 0.8), (23.25, 1.2), (23.3, 0.9), (23.4, 1.5), (23.45, 1.0),
    (23.5, 1.3), (23.55, 0.8), (23.6, 1.1), (23.7, 1.6), (23.75, 0.9), (23.8, 1.2), (23.85, 1.9), (23.9, 1.0),
    (23.95, 1.4),
    (24.8, 0.8), (24.05, 1.2), (24.1, 0.9), (24.15, 1.5), (24.2, 1.0), (24.3, 1.3), (24.35, 0.8), (24.4, 1.7),
    (24.5, 1.1), (24.55, 0.9), (24.6, 1.4), (24.65, 1.0), (24.7, 1.8), (24.75, 1.2), (24.85, 1.5), (24.9, 0.9),
    (24.95, 1.2), (24.5, 2.1),
    (25.0, 3.7), (25.05, 1.1), (25.1, 1.4), (25.15, 0.8), (25.2, 1.2), (25.3, 1.6), (25.35, 0.9), (25.4, 1.3),
    (25.5, 1.0), (25.55, 1.5), (25.6, 0.8), (25.65, 1.2), (25.75, 1.8), (25.8, 1.0), (25.85, 1.3), (25.9, 0.9),
    (25.95, 1.6), (25.45, 2.0),
    (26.05, 1.2), (26.1, 0.9), (26.15, 1.4), (26.2, 1.0), (26.3, 1.7), (26.35, 0.8), (26.4, 1.2), (26.5, 1.0),
    (26.55, 1.5), (26.6, 0.9), (26.7, 1.3), (26.75, 0.8), (26.8, 1.1), (26.85, 1.6), (26.9, 0.9), (26.95, 1.2),
    (26.45, 2.2),
    (27.0, 2.95), (27.05, 1.3), (27.1, 0.9), (27.15, 1.6), (27.2, 1.0), (27.3, 1.2), (27.35, 0.8), (27.4, 1.5),
    (27.5, 1.0), (27.55, 1.3), (27.6, 0.8), (27.7, 1.1), (27.75, 1.7), (27.8, 0.9), (27.85, 1.2), (27.9, 0.8),
    (27.95, 1.4),
    (28.1, 2.4), (28.9, 1.8), (28.05, 1.0), (28.15, 1.3), (28.2, 0.8), (28.3, 1.1), (28.35, 1.5), (28.4, 0.9),
    (28.5, 1.2), (28.55, 0.8), (28.6, 1.4), (28.7, 1.0), (28.75, 1.6), (28.8, 0.9), (28.85, 1.2), (28.95, 0.8),
    (29.45, 1.75), (29.3, 0.7), (29.05, 1.1), (29.1, 1.4), (29.15, 0.9), (29.2, 1.2), (29.25, 1.6), (29.35, 1.0),
    (29.4, 1.3), (29.5, 0.9), (29.55, 1.2), (29.6, 0.8),
])

titles = ["Sky Continuum", "Sky Emission Lines"]

serif = "DejaVu Serif"
sans = "Liberation Sans"

fig = plt.figure(figsize=(6.32, 7.21), dpi=100)
positions = [[0.1065, 0.5871, 0.8761, 0.3727], [0.1065, 0.0791, 0.8761, 0.3740]]
panels = [(cont_red, cont_blue), (lines_red, lines_blue)]

for pos, (red, blue), title in zip(positions, panels, titles):
    ax = fig.add_axes(pos)
    ax.plot(red[:, 0], red[:, 1], "+", color="red", ms=5, mew=1.2, ls="none")
    ax.plot(blue[:, 0], blue[:, 1], "+", color="blue", ms=5, mew=1.2, ls="none")
    ax.set_xlim(-1, 30)
    ax.set_ylim(0, 20)
    ax.xaxis.set_major_locator(MultipleLocator(5))
    ax.xaxis.set_minor_locator(MultipleLocator(1))
    ax.yaxis.set_major_locator(MultipleLocator(5))
    ax.yaxis.set_minor_locator(MultipleLocator(1))
    ax.tick_params(axis="both", which="both", direction="in", top=True, right=True, color="black", width=0.8)
    ax.tick_params(axis="x", which="major", length=4.5, pad=9)
    ax.tick_params(axis="x", which="minor", length=2.3)
    ax.tick_params(axis="y", which="major", length=8, pad=5)
    ax.tick_params(axis="y", which="minor", length=4)
    for lab in ax.get_xticklabels() + ax.get_yticklabels():
        lab.set_fontfamily(sans)
        lab.set_fontsize(12)
    for s in ax.spines.values():
        s.set_linewidth(0.9)
    ax.set_title(title, fontfamily=serif, fontsize=15.5, pad=5)
    ax.set_xlabel("Moon phase [day]", fontfamily=serif, fontsize=13, labelpad=2)
    ax.set_ylabel(r"$\sigma_{\mathbf{r}}$ [%]", fontfamily=sans, fontsize=12.5, labelpad=6)

fig.savefig("out.png", dpi=100)
